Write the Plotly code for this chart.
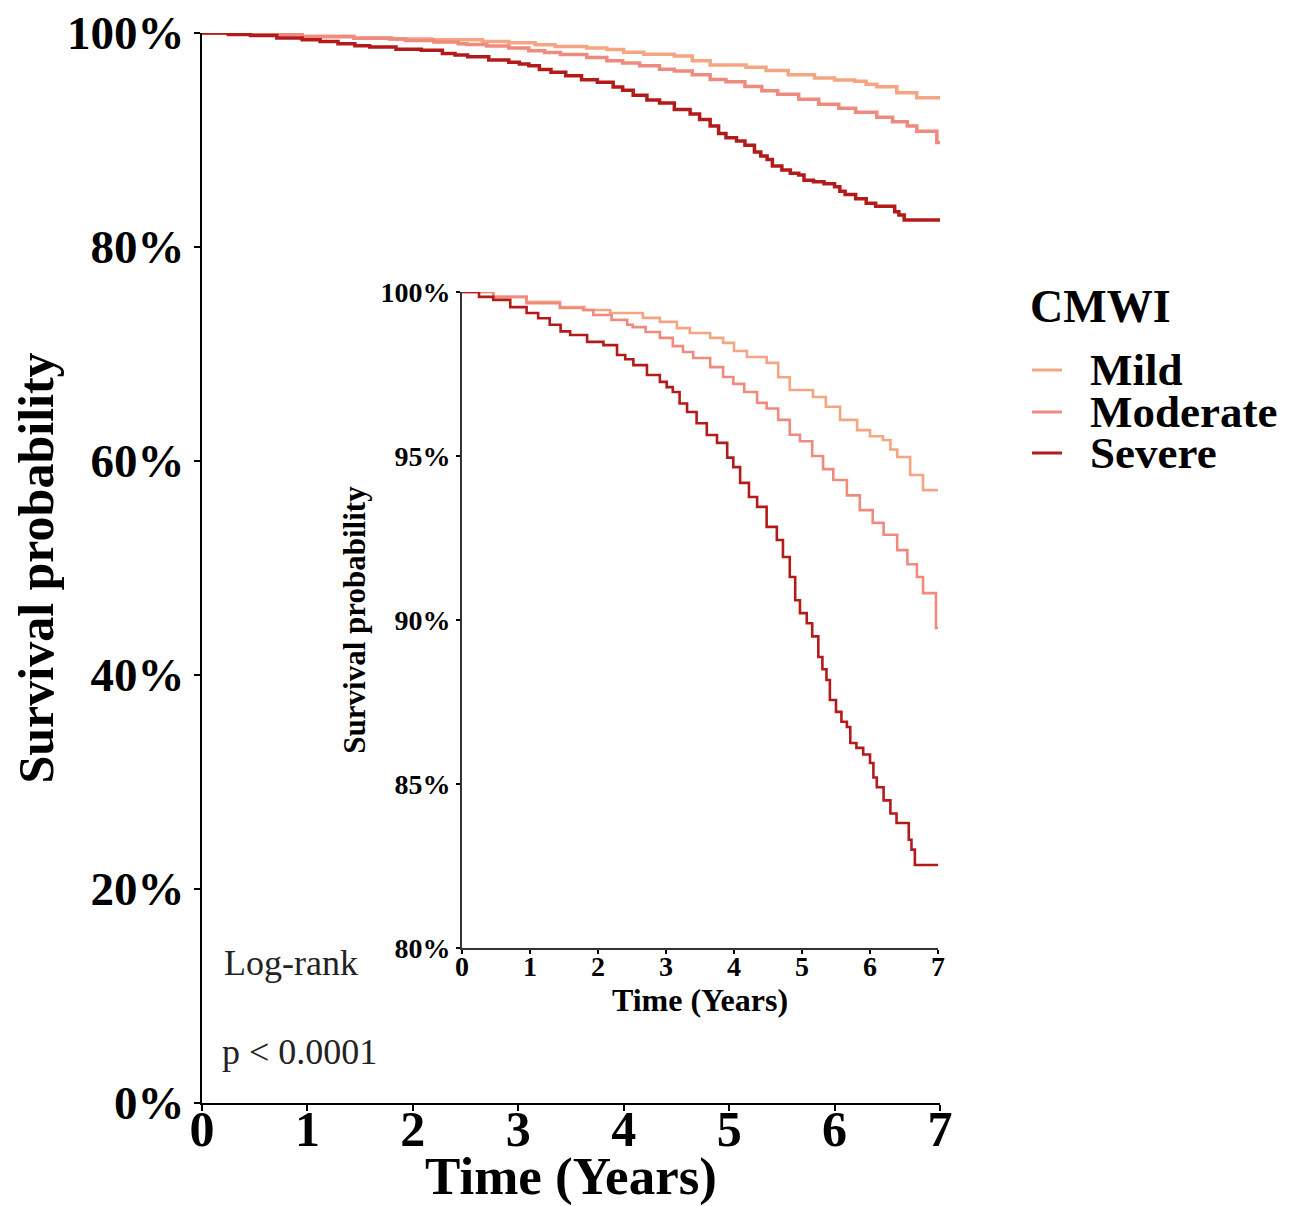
import plotly.graph_objects as go

# ---------------- data ----------------
mild_t = [0, 0.46, 0.95, 1.44, 1.80, 2.18, 2.66, 2.91, 3.16, 3.35, 3.65, 3.84, 4.00, 4.19,
          4.48, 4.65, 4.82, 5.16, 5.35, 5.56, 5.81, 6.00, 6.19, 6.30, 6.40, 6.59, 6.78, 7.0]
mild_s = [100, 99.85, 99.70, 99.54, 99.45, 99.36, 99.21, 99.09, 98.90, 98.75, 98.60, 98.45, 98.20, 98.02,
          97.84, 97.40, 97.01, 96.80, 96.50, 96.10, 95.79, 95.60, 95.49, 95.20, 94.97, 94.42, 93.96, 93.96]

mod_t = [0, 0.46, 0.95, 1.44, 1.78, 1.93, 2.20, 2.43, 2.51, 2.70, 2.91, 3.10, 3.25, 3.40, 3.65,
         3.84, 3.99, 4.15, 4.34, 4.48, 4.65, 4.82, 4.97, 5.15, 5.31, 5.46, 5.66, 5.85, 6.04, 6.20,
         6.40, 6.55, 6.69, 6.78, 6.97, 7.0]
mod_s = [100, 99.85, 99.66, 99.51, 99.45, 99.30, 99.15, 99.00, 98.93, 98.78, 98.60, 98.35, 98.17, 97.99, 97.71,
         97.41, 97.20, 96.95, 96.62, 96.45, 96.10, 95.65, 95.45, 95.00, 94.60, 94.27, 93.80, 93.35, 92.96, 92.60,
         92.13, 91.70, 91.31, 90.82, 89.76, 89.76]

sev_t = [0, 0.25, 0.46, 0.71, 0.95, 1.12, 1.29, 1.45, 1.59, 1.84, 2.08, 2.28, 2.40, 2.52, 2.72, 2.91,
         3.01, 3.10, 3.20, 3.31, 3.45, 3.60, 3.75, 3.90, 3.99, 4.09, 4.22, 4.34, 4.48, 4.63, 4.72, 4.82,
         4.90, 4.97, 5.07, 5.15, 5.24, 5.30, 5.36, 5.41, 5.50, 5.58, 5.66, 5.71, 5.80, 5.90, 6.00, 6.05,
         6.10, 6.20, 6.30, 6.39, 6.57, 6.61, 6.66, 7.0]
sev_s = [100, 99.85, 99.76, 99.54, 99.36, 99.20, 99.00, 98.80, 98.69, 98.48, 98.38, 98.08, 97.95, 97.77, 97.47, 97.26,
         97.10, 96.95, 96.60, 96.34, 96.00, 95.64, 95.40, 94.95, 94.66, 94.18, 93.75, 93.45, 92.84, 92.44, 91.92, 91.31,
         90.60, 90.21, 89.90, 89.50, 88.87, 88.50, 88.17, 87.56, 87.20, 86.90, 86.74, 86.25, 86.10, 85.90, 85.64, 85.20,
         84.90, 84.50, 84.10, 83.81, 83.30, 83.00, 82.53, 82.53]

groups = ["Mild", "Moderate", "Severe"]
colors = ["#F4A582", "#EF8A7E", "#B31B1B"]
series = [(mild_t, mild_s), (mod_t, mod_s), (sev_t, sev_s)]

main_x_ticks = [0, 1, 2, 3, 4, 5, 6, 7]
main_y_ticks = [0, 20, 40, 60, 80, 100]
main_y_labels = ["0%", "20%", "40%", "60%", "80%", "100%"]
inset_y_ticks = [80, 85, 90, 95, 100]
inset_y_labels = ["80%", "85%", "90%", "95%", "100%"]

legend_title = "CMWI"
stat_lines = ["Log-rank", "p < 0.0001"]

# ---------------- layout helpers ----------------
OFF = 8                      # default page body margin
W, H = 1304 - OFF, 1206 - OFF
L, R, T, B = 202, 940, 33, 1103  # main plot area in screen pixels


def px(x):
    return (x - L) / (R - L)


def py(y):
    return (B - y) / (B - T)


SERIF = "Liberation Serif"

fig = go.Figure()

for (t, s), name, col in zip(series, groups, colors):
    fig.add_trace(go.Scatter(x=t, y=s, mode="lines", line=dict(color=col, width=3.5, shape="hv"),
                             name=name, showlegend=False, xaxis="x", yaxis="y"))
for (t, s), name, col in zip(series, groups, colors):
    fig.add_trace(go.Scatter(x=t, y=s, mode="lines", line=dict(color=col, width=2.6, shape="hv"),
                             name=name, showlegend=False, xaxis="x2", yaxis="y2"))

axis_common = dict(showgrid=False, zeroline=False, showline=True, linecolor="black",
                   ticks="outside", tickcolor="black", automargin=False, tickmode="array",
                   ticklabeloverflow="allow")

fig.update_layout(
    width=W, height=H,
    margin=dict(l=L - OFF, r=W - (R - OFF), t=T - OFF, b=H - (B - OFF), pad=0),
    plot_bgcolor="white", paper_bgcolor="white",
    font=dict(family=SERIF, color="black"),
    xaxis=dict(axis_common, domain=[0, 1], range=[0, 7], tickvals=main_x_ticks,
               ticktext=[str(v) for v in main_x_ticks], linewidth=2,
               ticklen=6, tickwidth=2, ticklabelstandoff=-25,
               tickfont=dict(family=SERIF, size=50, weight="bold"),
               title=dict(text="Time (Years)", font=dict(family=SERIF, size=53, weight="bold"), standoff=0)),
    yaxis=dict(axis_common, domain=[0, 1], range=[0, 100], tickvals=main_y_ticks, ticktext=main_y_labels,
               linewidth=2, ticklen=6, tickwidth=2,
               tickfont=dict(family=SERIF, size=47, weight="bold"),
               title=dict(text="Survival probability", font=dict(family=SERIF, size=50, weight="bold"),
                          standoff=2)),
    xaxis2=dict(axis_common, domain=[px(462), px(938)], anchor="y2", range=[0, 7], tickvals=main_x_ticks,
                ticktext=[str(v) for v in main_x_ticks],
                linewidth=2, linecolor="#333", ticklen=4, tickwidth=1.5, ticklabelstandoff=-12,
                tickfont=dict(family=SERIF, size=28, weight="bold"),
                title=dict(text="Time (Years)", font=dict(family=SERIF, size=32, weight="bold"), standoff=2)),
    yaxis2=dict(axis_common, domain=[py(948), py(292)], anchor="x2", range=[80, 100],
                tickvals=inset_y_ticks, ticktext=inset_y_labels,
                linewidth=2, linecolor="#333", ticklen=4, tickwidth=1.5,
                tickfont=dict(family=SERIF, size=28, weight="bold"),
                title=dict(text="Survival probability", font=dict(family=SERIF, size=31, weight="bold"),
                           standoff=6)),
)

# statistics text inside main panel
fig.add_annotation(x=0.19, y=13.1, xref="x", yref="y", text=stat_lines[0], showarrow=False,
                   xanchor="left", yanchor="middle", font=dict(family=SERIF, size=36, color="#222"))
fig.add_annotation(x=0.17, y=4.8, xref="x", yref="y", text=stat_lines[1], showarrow=False,
                   xanchor="left", yanchor="middle", font=dict(family=SERIF, size=36, color="#222"))

# legend (title, samples, labels)
fig.add_annotation(x=px(1028), y=py(307), xref="paper", yref="paper", text=legend_title, showarrow=False,
                   xanchor="left", yanchor="middle", font=dict(family=SERIF, size=46, weight="bold"))
legend_y = [370, 412, 453]
for name, col, yy in zip(groups, colors, legend_y):
    fig.add_shape(type="line", xref="paper", yref="paper", x0=px(1032), x1=px(1062), y0=py(yy), y1=py(yy),
                  line=dict(color=col, width=3))
    fig.add_annotation(x=px(1088), y=py(yy), xref="paper", yref="paper", text=name, showarrow=False,
                       xanchor="left", yanchor="middle", font=dict(family=SERIF, size=45, weight="bold"))

fig.write_html("out.html")
